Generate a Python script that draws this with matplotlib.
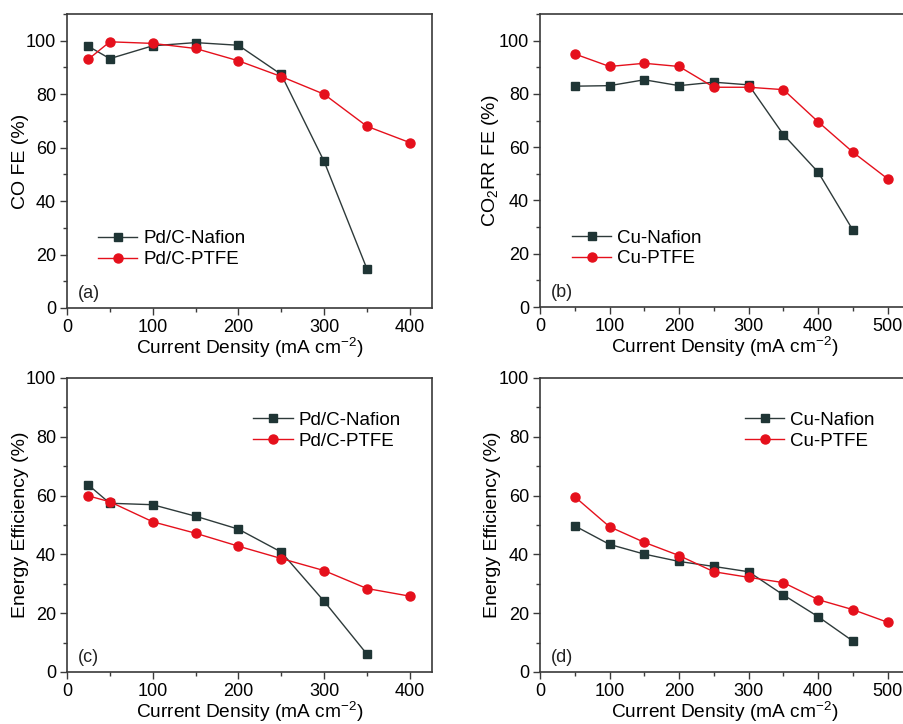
import matplotlib
matplotlib.use("Agg")
import matplotlib.pyplot as plt
from matplotlib.ticker import MultipleLocator

plt.rcParams['font.family'] = ['Liberation Sans', 'DejaVu Sans']
plt.rcParams['mathtext.fontset'] = 'custom'
plt.rcParams['mathtext.rm'] = 'Liberation Sans'

# (a) Pd/C CO FE
pd_naf_x = [25, 50, 100, 150, 200, 250, 300, 350]
pd_naf_fe = [97.9, 93.3, 98.1, 99.3, 98.3, 87.4, 54.9, 14.7]
pd_ptfe_x = [25, 50, 100, 150, 200, 250, 300, 350, 400]
pd_ptfe_fe = [93.1, 99.6, 99.0, 97.1, 92.5, 86.6, 80.0, 68.0, 61.9]

# (b) Cu CO2RR FE
cu_naf_x = [50, 100, 150, 200, 250, 300, 350, 400, 450]
cu_naf_fe = [82.9, 83.1, 85.3, 83.1, 84.4, 83.4, 64.7, 50.6, 28.8]
cu_ptfe_x = [50, 100, 150, 200, 250, 300, 350, 400, 450, 500]
cu_ptfe_fe = [95.0, 90.3, 91.5, 90.3, 82.5, 82.5, 81.6, 69.5, 58.1, 48.1]

# (c) Pd/C energy efficiency
pd_naf_ee = [63.6, 57.4, 56.9, 53.0, 48.6, 40.8, 24.1, 6.1]
pd_ptfe_ee = [59.9, 57.9, 51.1, 47.2, 42.8, 38.6, 34.5, 28.4, 25.8]

# (d) Cu energy efficiency
cu_naf_ee = [49.7, 43.4, 40.1, 37.6, 35.9, 34.1, 26.2, 18.8, 10.5]
cu_ptfe_ee = [59.6, 49.4, 44.1, 39.6, 34.1, 32.2, 30.4, 24.6, 21.2, 16.9]

naf_color = '#1f3535'
naf_line = '#2e3a3a'
ptfe_color = '#e5101c'
spine_color = '#3a3a3a'

fig = plt.figure(figsize=(9.04, 7.24), dpi=100)

# panel boxes given in figure pixels -> fractions
W, H = 904, 724
def box(x0, top, x1, y0):
    return [x0 / W, (H - y0) / H, (x1 - x0) / W, (y0 - top) / H]

ax_a = fig.add_axes(box(67, 14, 432, 308))
ax_b = fig.add_axes(box(540, 14, 910, 307))
ax_c = fig.add_axes(box(67, 378, 432, 672))
ax_d = fig.add_axes(box(540, 378, 910, 672))

panels = [
    (ax_a, pd_naf_x, pd_naf_fe, pd_ptfe_x, pd_ptfe_fe, 'Pd/C-Nafion', 'Pd/C-PTFE',
     'CO FE (%)', '(a)', 426, 110, (0.085, 0.20)),
    (ax_b, cu_naf_x, cu_naf_fe, cu_ptfe_x, cu_ptfe_fe, 'Cu-Nafion', 'Cu-PTFE',
     'CO$_\\mathregular{2}$RR FE (%)', '(b)', 532, 110, (0.086, 0.20)),
    (ax_c, pd_naf_x, pd_naf_ee, pd_ptfe_x, pd_ptfe_ee, 'Pd/C-Nafion', 'Pd/C-PTFE',
     'Energy Efficiency (%)', '(c)', 426, 100, (0.51, 0.82)),
    (ax_d, cu_naf_x, cu_naf_ee, cu_ptfe_x, cu_ptfe_ee, 'Cu-Nafion', 'Cu-PTFE',
     'Energy Efficiency (%)', '(d)', 532, 100, (0.554, 0.82)),
]

for ax, nx, ny, px, py, nlab, plab, ylab, tag, xmax, ymax, leg_pos in panels:
    ax.plot(nx, ny, '-s', color=naf_line, mfc=naf_color, mec=naf_color,
            lw=1.0, ms=6, label=nlab)
    ax.plot(px, py, '-o', color=ptfe_color, mfc=ptfe_color, mec=ptfe_color,
            lw=1.0, ms=6.5, label=plab)
    ax.set_xlim(0, xmax)
    ax.set_ylim(0, ymax)
    ax.xaxis.set_major_locator(MultipleLocator(100))
    ax.xaxis.set_minor_locator(MultipleLocator(50))
    ax.yaxis.set_major_locator(MultipleLocator(20))
    ax.yaxis.set_minor_locator(MultipleLocator(10))
    ax.tick_params(which='major', direction='out', length=5, width=1.0,
                   labelsize=13, color=spine_color, pad=3)
    ax.tick_params(which='minor', direction='out', length=3, width=1.0,
                   color=spine_color)
    for s in ax.spines.values():
        s.set_color(spine_color)
        s.set_linewidth(1.2)
    ax.set_xlabel('Current Density (mA cm$^{\\mathregular{-2}}$)', fontsize=13.8)
    ax.set_ylabel(ylab, fontsize=14)
    ax.yaxis.set_label_coords(-0.105, 0.5)
    ax.xaxis.set_label_coords(0.5, -0.092)
    ax.text(0.03, 0.05, tag, transform=ax.transAxes, fontsize=13,
            ha='left', va='center', color='#222222')
    ax.legend(loc='center left', bbox_to_anchor=leg_pos, frameon=False,
              fontsize=13.5, handlelength=2.1, handletextpad=0.3,
              borderpad=0, borderaxespad=0, labelspacing=0.2)

fig.savefig('out.png', dpi=100)
